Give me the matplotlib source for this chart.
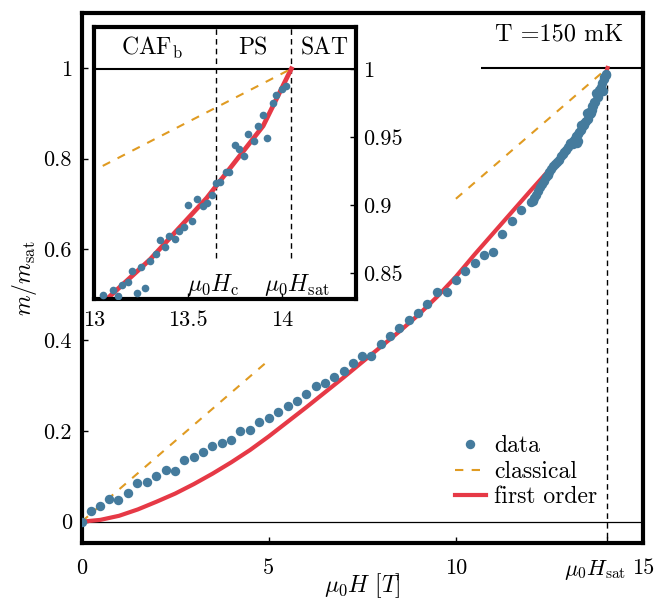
import numpy as np
import matplotlib
matplotlib.use('Agg')
import matplotlib.pyplot as plt
import matplotlib.transforms as mtrans

plt.rcParams['font.family'] = 'serif'
plt.rcParams['font.serif'] = ['cmr10']
plt.rcParams['mathtext.fontset'] = 'cm'
plt.rcParams['axes.unicode_minus'] = False

# magnetisation data
H_data = [0, 0.24, 0.49, 0.73, 0.98, 1.24, 1.49, 1.74, 1.99, 2.24, 2.49, 2.74, 2.99,
          3.24, 3.49, 3.74, 3.99, 4.24, 4.50, 4.74, 5.00, 5.25, 5.50, 5.75, 6.00,
          6.25, 6.50, 6.74, 7.00, 7.24, 7.49, 7.74, 7.99, 8.24, 8.49, 8.74, 8.99,
          9.24, 9.49, 9.75, 9.99, 10.24, 10.50, 10.75, 10.99, 11.24, 11.50, 11.75,
          12.00, 12.05, 12.10, 12.15, 12.20, 12.25, 12.30, 12.35, 12.40, 12.45,
          12.50, 12.55, 12.60, 12.65, 12.70, 12.75, 12.80, 12.85, 12.90, 12.95,
          13.00, 13.05, 13.10, 13.13, 13.15, 13.18, 13.20, 13.23, 13.25, 13.27,
          13.30, 13.33, 13.35, 13.38, 13.40, 13.43, 13.45, 13.48, 13.50, 13.52,
          13.55, 13.58, 13.60, 13.63, 13.65, 13.67, 13.70, 13.72, 13.75, 13.77,
          13.80, 13.82, 13.85, 13.87, 13.90, 13.92, 13.95, 13.97, 14.00, 14.02]
m_data = [0, 0.024, 0.035, 0.050, 0.048, 0.064, 0.085, 0.088, 0.101, 0.114, 0.111,
          0.136, 0.143, 0.154, 0.167, 0.173, 0.179, 0.200, 0.202, 0.219, 0.228,
          0.242, 0.255, 0.266, 0.281, 0.299, 0.306, 0.319, 0.332, 0.350, 0.365,
          0.365, 0.391, 0.409, 0.426, 0.444, 0.459, 0.479, 0.507, 0.507, 0.533,
          0.553, 0.571, 0.588, 0.595, 0.634, 0.663, 0.686,
          0.705, 0.707, 0.713, 0.721, 0.729, 0.737, 0.744, 0.752, 0.759, 0.765,
          0.770, 0.777, 0.783, 0.789, 0.793, 0.798, 0.805, 0.810, 0.815, 0.820,
          0.826, 0.834, 0.837, 0.833, 0.841, 0.843, 0.851, 0.835, 0.854, 0.839,
          0.859, 0.864, 0.874, 0.869, 0.877, 0.875, 0.881, 0.884, 0.900, 0.888,
          0.904, 0.899, 0.901, 0.907, 0.916, 0.917, 0.924, 0.924, 0.944, 0.941,
          0.936, 0.952, 0.947, 0.958, 0.966, 0.949, 0.975, 0.981, 0.985, 0.987]

# first order model curve
H_fo = [0, 0.5, 1.0, 1.5, 2.0, 2.5, 3.0, 3.5, 4.0, 4.5, 5.0, 5.5, 6.0, 6.5, 7.0,
        7.5, 8.0, 8.5, 9.0, 9.5, 10.0, 10.5, 11.0, 11.5, 12.0, 12.5, 13.0, 13.3,
        13.6, 13.9, 14.05]
m_fo = [0, 0.004, 0.013, 0.027, 0.044, 0.062, 0.083, 0.106, 0.131, 0.158, 0.188,
        0.220, 0.252, 0.285, 0.318, 0.352, 0.386, 0.420, 0.456, 0.496, 0.540,
        0.589, 0.636, 0.683, 0.730, 0.776, 0.822, 0.860, 0.905, 0.958, 1.0]

Hsat = 14.05
Hc = 13.65
# classical: m = H/Hsat, shown on pieces
H_cl1 = [0, 5.0]
H_cl2 = [10.0, Hsat]

blue = '#457b9d'
red = '#e63946'
orange = '#e09b22'

fig = plt.figure(figsize=(6.55, 6.02), dpi=100)
ax = fig.add_axes([0.1247, 0.098, 0.8570, 0.881])

ax.axhline(0, color='k', lw=0.9, zorder=1)
ax.hlines(1, 10.67, 15, color='k', lw=1.5, zorder=1)
ax.vlines(Hsat, -0.1, 1, color='k', lw=1, linestyles=(0, (4, 3)), zorder=1)
ax.plot(H_fo, m_fo, color=red, lw=3, zorder=2, label='first order')
ax.plot(H_cl1, np.array(H_cl1) / Hsat, color=orange, lw=1.5, dashes=(4, 4),
        zorder=2, label='classical')
ax.plot(H_cl2, np.array(H_cl2) / Hsat, color=orange, lw=1.5, dashes=(4, 4), zorder=2)
ax.plot(H_data, m_data, 'o', color=blue, ms=6.8, mew=0, zorder=3, label='data')

ax.set_xlim(0, 15)
ax.set_ylim(-0.047, 1.122)
ax.set_xticks([0, 5, 10, Hsat, 15])
ax.set_xticklabels(['0', '5', '10', r'$\mu_0 H_{\rm sat}$', '15'])
ax.set_yticks([0, 0.2, 0.4, 0.6, 0.8, 1])
ax.set_yticklabels(['0', '0.2', '0.4', '0.6', '0.8', '1'])
ax.tick_params(direction='in', length=4, width=1, labelsize=16)
ax.tick_params(axis='x', pad=11)
ax.tick_params(axis='y', pad=7)
lab = ax.get_xticklabels()[3]
lab.set_transform(lab.get_transform() + mtrans.ScaledTranslation(-0.12, 0, fig.dpi_scale_trans))
for s in ax.spines.values():
    s.set_linewidth(3)

ax.set_xlabel(r'$\mu_0 H\ [T]$', fontsize=17, labelpad=-8)
ax.set_ylabel(r'$m/m_{\rm sat}$', fontsize=17, labelpad=3)
ax.text(12.77, 1.073, 'T =150 mK', fontsize=17.5, ha='center', va='center')

h, l = ax.get_legend_handles_labels()
order = [2, 1, 0]
ax.legend([h[i] for i in order], [l[i] for i in order], loc='lower right',
          bbox_to_anchor=(0.956, 0.025), frameon=False, fontsize=17,
          handlelength=1.3, handletextpad=0.35, labelspacing=0.15)

# inset
ins = fig.add_axes([0.1435, 0.5033, 0.4000, 0.4518])
ins.axhline(1, color='k', lw=1.5, zorder=1)
ins.vlines([Hc, Hsat], 0.861, 1.1, color='k', lw=1, linestyles=(0, (4, 3)), zorder=1)
ins.plot(H_fo, m_fo, color=red, lw=3.4, zorder=2)
ins.plot(H_cl2, np.array(H_cl2) / Hsat, color=orange, lw=1.5, dashes=(4, 4), zorder=2)
ins.plot(H_data, m_data, 'o', color=blue, ms=5.5, mew=0, zorder=3)
ins.set_xlim(13.0, 14.394)
ins.set_ylim(0.8307, 1.0307)
ins.set_xticks([13, 13.5, 14])
ins.set_xticklabels(['13', '13.5', '14'])
ins.set_yticks([0.85, 0.9, 0.95, 1])
ins.set_yticklabels(['0.85', '0.9', '0.95', '1'])
ins.yaxis.tick_right()
ins.tick_params(direction='in', length=4, width=1, labelsize=16)
ins.tick_params(axis='x', pad=8)
ins.tick_params(axis='y', pad=5)
for s in ins.spines.values():
    s.set_linewidth(3)
ins.text(13.31, 1.0152, r'CAF$_{\rm b}$', fontsize=17, ha='center', va='center')
ins.text(13.846, 1.0152, 'PS', fontsize=17, ha='center', va='center')
ins.text(14.229, 1.0152, 'SAT', fontsize=17, ha='center', va='center')
ins.text(13.633, 0.841, r'$\mu_0 H_{\rm c}$', fontsize=17, ha='center', va='center')
ins.text(14.08, 0.841, r'$\mu_0 H_{\rm sat}$', fontsize=17, ha='center', va='center')

fig.savefig('out.png', dpi=100)
